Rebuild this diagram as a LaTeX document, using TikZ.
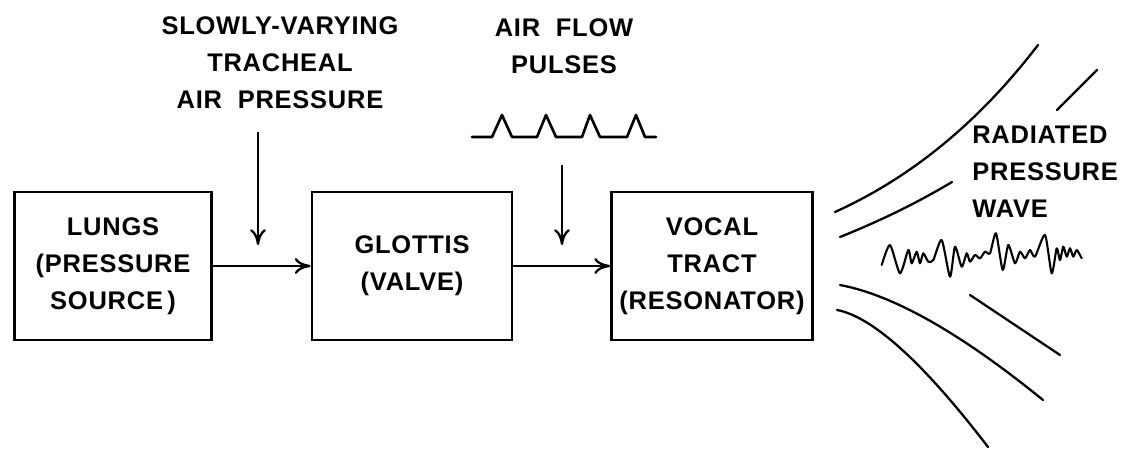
\documentclass[tikz,border=0pt]{standalone}
\usepackage{fontspec}
\setmainfont{Liberation Sans}[LetterSpace=3]
\usetikzlibrary{arrows.meta}
\begin{document}
\begin{tikzpicture}[x=0.02cm,y=-0.02cm,
  lbl/.style={font=\fontsize{14.5}{21}\selectfont\bfseries, align=center, inner sep=0pt},
  blk/.style={draw, line width=1.6pt, minimum height=2.96cm, lbl},
  conn/.style={line width=1.2pt, -{To[length=9pt,width=9pt,line width=1.3pt]}},
  wave/.style={line width=1.3pt, line cap=round, line join=round}]
\useasboundingbox (0,0) rectangle (1129,452);
% blocks
\node[blk, minimum width=3.95cm] (lungs) at (113,266) {LUNGS\\(PRESSURE\\SOURCE\,)};
\node[blk, minimum width=4.0cm] (glottis) at (412,266) {GLOTTIS\\(VALVE)};
\node[blk, minimum width=4.02cm] (vocal) at (712,266) {VOCAL\\TRACT\\(RESONATOR)};
% horizontal connectors
\draw[conn] (lungs.east) -- (glottis.west);
\draw[conn] (glottis.east) -- (vocal.west);
% top labels
\node[lbl] (trach) at (280,63) {SLOWLY-VARYING\\TRACHEAL\\AIR\ \ PRESSURE};
\node[lbl] (flow) at (564,46) {AIR\ \ FLOW\\PULSES};
\coordinate (a1s) at (258,132);
\coordinate (a1e) at (258,245);
\coordinate (a2s) at (562,165);
\coordinate (a2e) at (562,245);
\draw[conn] (a1s) -- (a1e);
\draw[conn] (a2s) -- (a2e);
% pulse train
\draw[wave, line width=1.5pt] (472,137) -- (492,137) -- (502,115) -- (512,137) -- (537,137) -- (546,115) -- (556,137)
  -- (582,137) -- (590,115) -- (600,137) -- (627,137) -- (636,115) -- (645,137) -- (656,137);
% radiated wave fronts
\draw[wave] (835,212) .. controls (911.7,177.3) and (979.3,121.7) .. (1038,45);
\draw[wave] (1057,110) -- (1097,70);
\draw[wave] (840,237) .. controls (876.7,222.3) and (914,204.7) .. (952,182);
\draw[wave] (840,285) .. controls (893.3,295) and (961,333.3) .. (1043,400);
\draw[wave] (837,310) .. controls (872.3,316.7) and (922.7,361.7) .. (988,447);
\draw[wave] (970,295) -- (1060,355);
% label
\node[lbl, align=left, anchor=west] (rad) at (972,172) {RADIATED\\PRESSURE\\WAVE};
% noisy pressure wave
\draw[wave, line width=1.2pt] plot[smooth, tension=0.4] coordinates {
 (881.7,265) (890,245) (900,273.3) (908.3,250) (911.7,263.3) (916.7,251.7) (920,263.3)
 (923.3,253.3) (928.3,261.7) (933.3,260) (941.7,240) (950,276.7) (955,246.7) (961.7,266.7)
 (966.7,253.3) (970,261.7) (975,255) (980,258.3) (985,251.7) (990,253.3) (996,233.3)
 (1002.7,270) (1008.3,245) (1015,263.3) (1020,251.7) (1025,258.3) (1030,250) (1035,256.7)
 (1045,235) (1051.7,273.3) (1056.7,248.3) (1060,260) (1063.3,246.7) (1066.7,256.7)
 (1070,248.3) (1073.3,256.7) (1076.7,250) (1081.7,258.3)};
\end{tikzpicture}
\end{document}
